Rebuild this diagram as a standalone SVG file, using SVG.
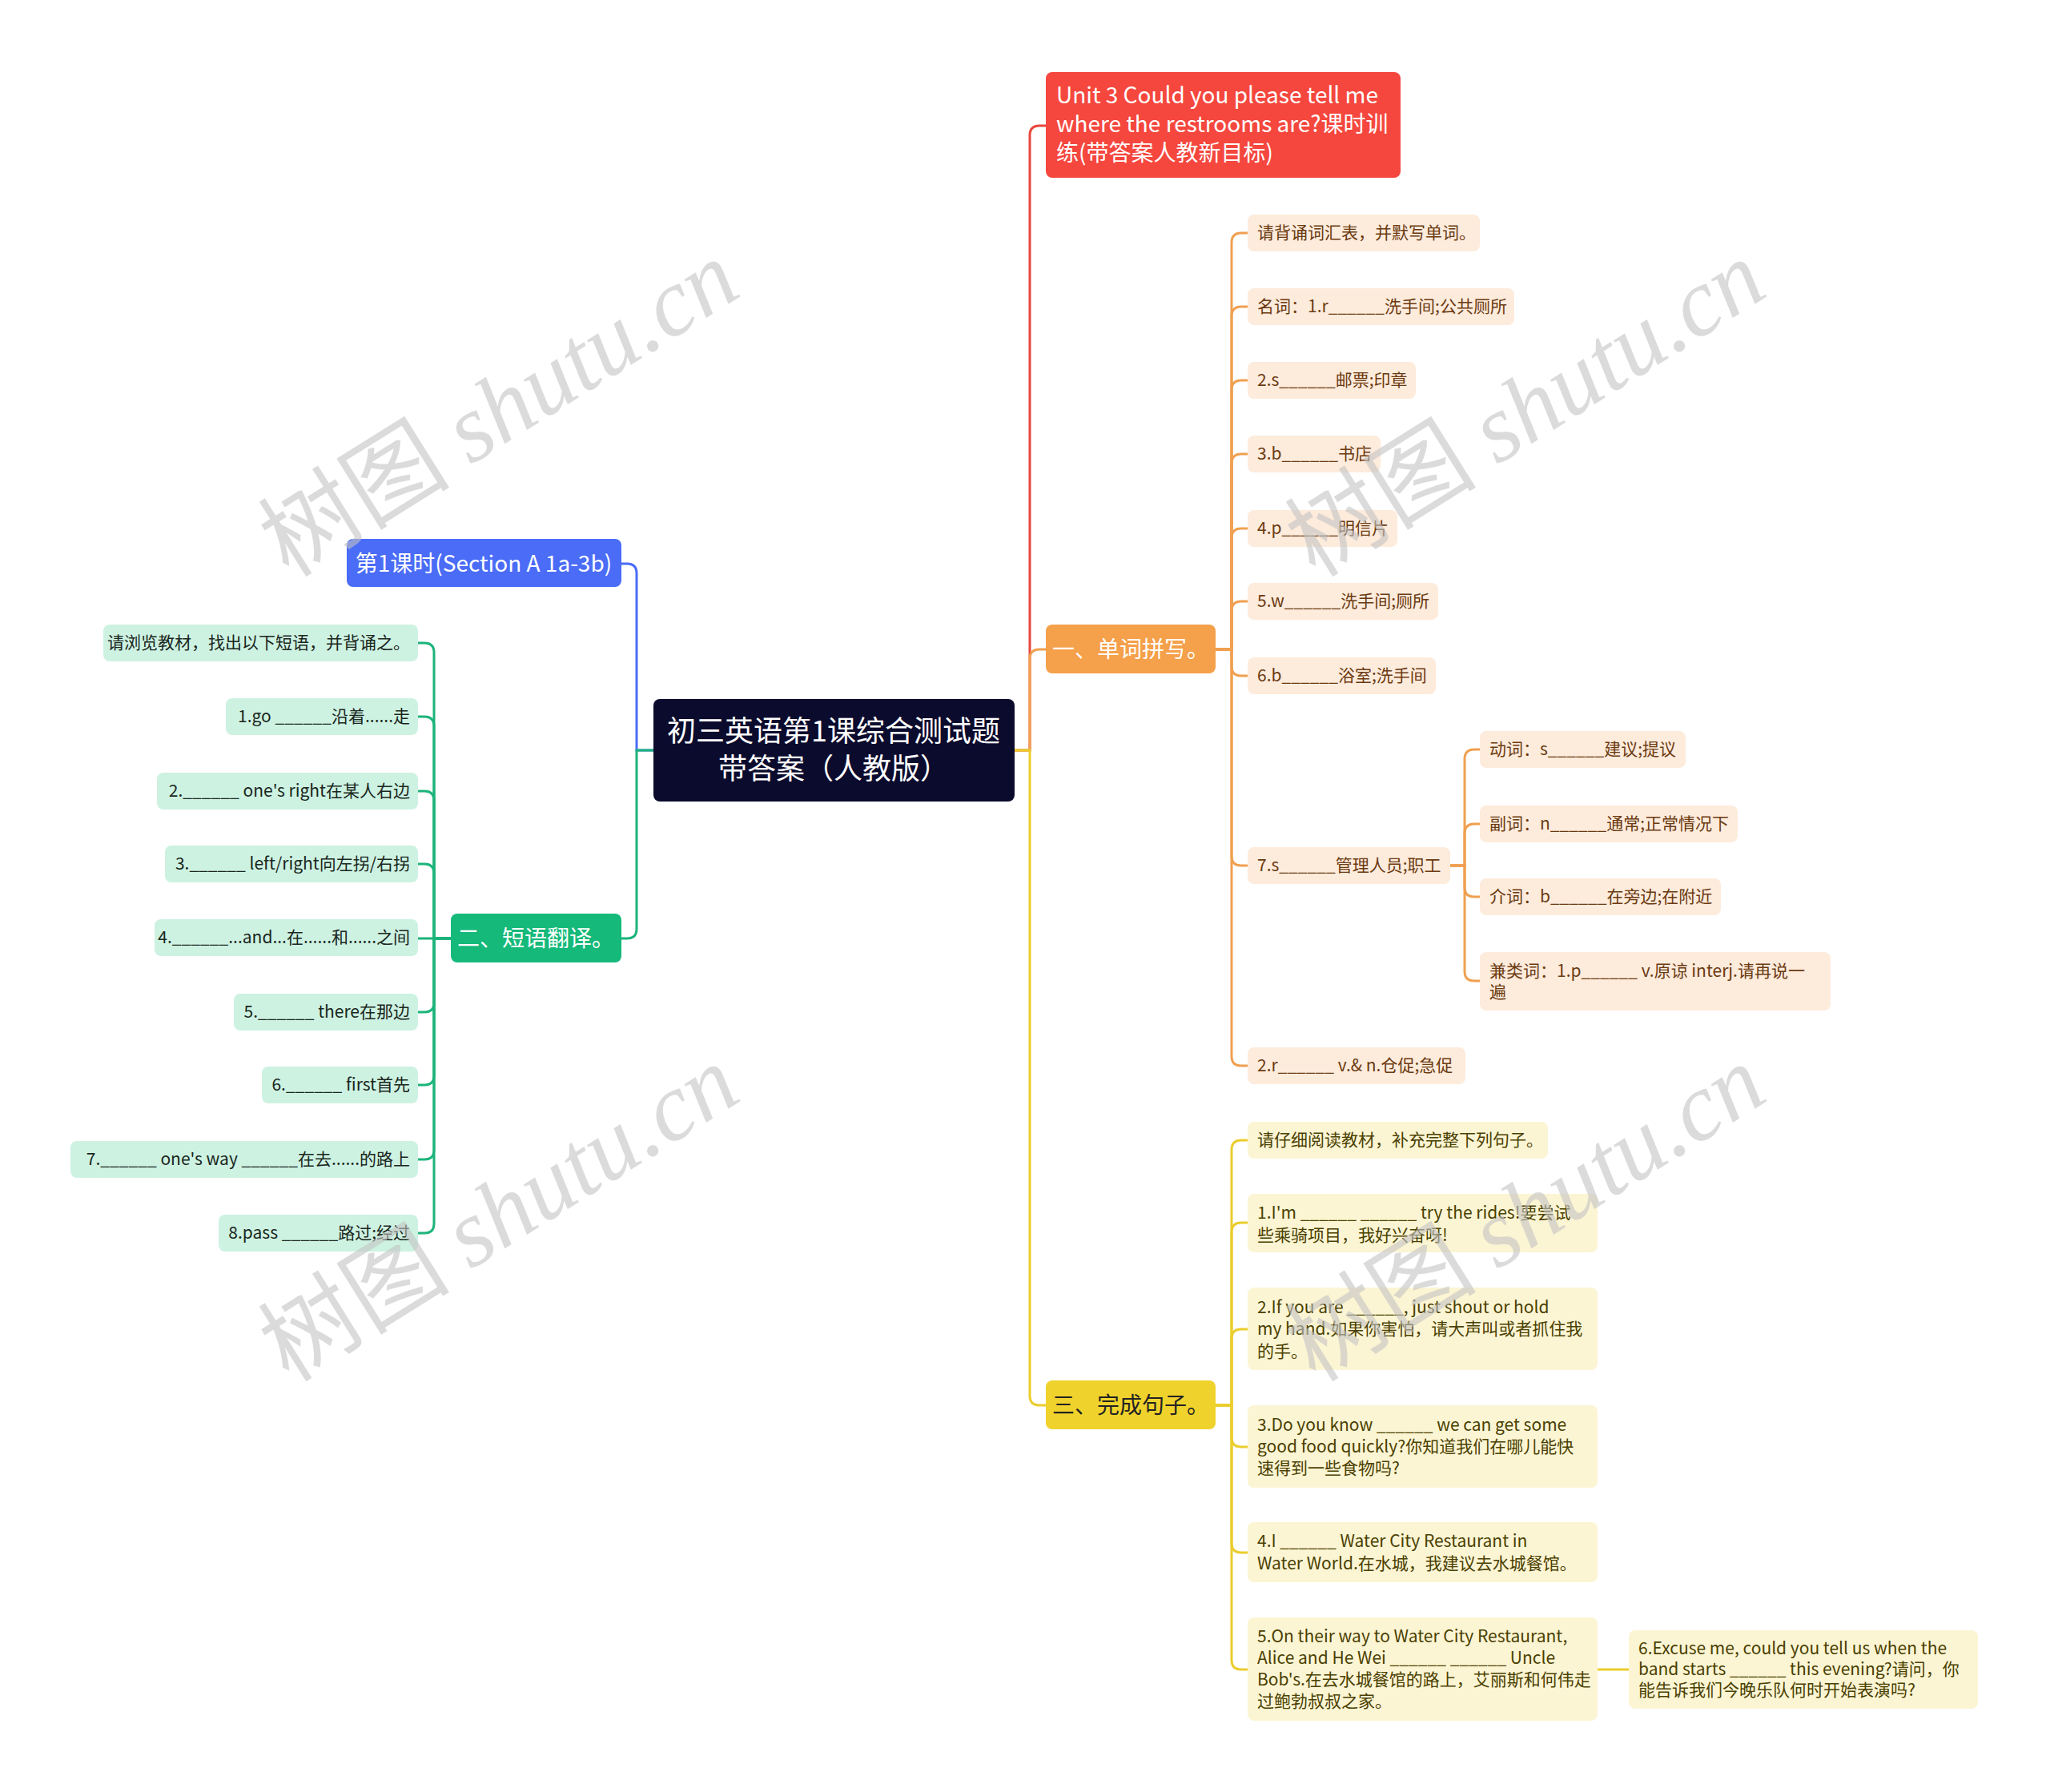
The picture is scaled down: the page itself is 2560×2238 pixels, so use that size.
<svg xmlns="http://www.w3.org/2000/svg" width="2560" height="2238" viewBox="0 0 2560 2238">
<style>
text{font-family:"Noto Sans CJK SC","Noto Sans",sans-serif;}
.lk{fill:none;stroke-width:3;}
.r{stroke:#e8473e}.o{stroke:#f0a050}.y{stroke:#ebcd2c}.g{stroke:#1cb47a}.b{stroke:#4a6cf7}
.ob{fill:#fdebdc}.ot{fill:#6b3a10;font-size:21px}
.yb{fill:#fcf5d4}.yt{fill:#4a4000;font-size:21px}
.gb{fill:#cdf2e2}.gt{fill:#1a2620;font-size:21px}
.mt{font-size:28px}
.wm{font-size:120px;fill:#c4c4c4;opacity:0.6}
</style>
<rect width="2560" height="2238" fill="#ffffff"/>
<g id="connectors">
<path class="lk r" d="M1267 937 H1286 V169 Q1286 157 1298 157 H1306"/>
<path class="lk o" d="M1267 937 H1286 V823 Q1286 811 1298 811 H1306"/>
<path class="lk y" d="M1267 937 H1286 V1743 Q1286 1755 1298 1755 H1306"/>
<path class="lk b" d="M816 937 H795 V716 Q795 704 783 704 H776"/>
<path class="lk g" d="M816 937 H795 V1160 Q795 1172 783 1172 H776"/>
<path class="lk o" d="M1518 811 H1538 V303 Q1538 291 1550 291 H1558"/>
<path class="lk o" d="M1518 811 H1538 V395 Q1538 383 1550 383 H1558"/>
<path class="lk o" d="M1518 811 H1538 V487 Q1538 475 1550 475 H1558"/>
<path class="lk o" d="M1518 811 H1538 V579 Q1538 567 1550 567 H1558"/>
<path class="lk o" d="M1518 811 H1538 V672 Q1538 660 1550 660 H1558"/>
<path class="lk o" d="M1518 811 H1538 V763 Q1538 751 1550 751 H1558"/>
<path class="lk o" d="M1518 811 H1538 V832 Q1538 844 1550 844 H1558"/>
<path class="lk o" d="M1518 811 H1538 V1069 Q1538 1081 1550 1081 H1558"/>
<path class="lk o" d="M1518 811 H1538 V1319 Q1538 1331 1550 1331 H1558"/>
<path class="lk o" d="M1811 1081 H1829 V948 Q1829 936 1841 936 H1848"/>
<path class="lk o" d="M1811 1081 H1829 V1041 Q1829 1029 1841 1029 H1848"/>
<path class="lk o" d="M1811 1081 H1829 V1108 Q1829 1120 1841 1120 H1848"/>
<path class="lk o" d="M1811 1081 H1829 V1213 Q1829 1225 1841 1225 H1848"/>
<path class="lk y" d="M1518 1755 H1538 V1436 Q1538 1424 1550 1424 H1558"/>
<path class="lk y" d="M1518 1755 H1538 V1539 Q1538 1527 1550 1527 H1558"/>
<path class="lk y" d="M1518 1755 H1538 V1672 Q1538 1660 1550 1660 H1558"/>
<path class="lk y" d="M1518 1755 H1538 V1795 Q1538 1807 1550 1807 H1558"/>
<path class="lk y" d="M1518 1755 H1538 V1927 Q1538 1939 1550 1939 H1558"/>
<path class="lk y" d="M1518 1755 H1538 V2073 Q1538 2085 1550 2085 H1558"/>
<path class="lk y" d="M1995 2085 H2034"/>
<path class="lk g" d="M563 1172 H542 V815 Q542 803 530 803 H522"/>
<path class="lk g" d="M563 1172 H542 V907 Q542 895 530 895 H522"/>
<path class="lk g" d="M563 1172 H542 V1000 Q542 988 530 988 H522"/>
<path class="lk g" d="M563 1172 H542 V1091 Q542 1079 530 1079 H522"/>
<path class="lk g" d="M563 1172 H522"/>
<path class="lk g" d="M563 1172 H542 V1252 Q542 1264 530 1264 H522"/>
<path class="lk g" d="M563 1172 H542 V1343 Q542 1355 530 1355 H522"/>
<path class="lk g" d="M563 1172 H542 V1436 Q542 1448 530 1448 H522"/>
<path class="lk g" d="M563 1172 H542 V1528 Q542 1540 530 1540 H522"/>
</g>
<g id="root">
<rect x="816" y="873" width="451" height="128" rx="8" fill="#0b0b2d"/>
<text x="1041" y="926" font-size="36" fill="#ffffff" text-anchor="middle">初三英语第1课综合测试题</text>
<text x="1041" y="973" font-size="36" fill="#ffffff" text-anchor="middle">带答案（人教版）</text>
</g>
<g id="title">
<rect x="1306" y="90" width="443" height="132" rx="8" fill="#f5473e"/>
<text class="mt" fill="#ffffff"><tspan x="1319" y="129">Unit 3 Could you please tell me</tspan><tspan x="1319" y="165">where the restrooms are?课时训</tspan><tspan x="1319" y="201">练(带答案人教新目标)</tspan></text>
</g>
<g id="lesson1">
<rect x="433" y="673" width="343" height="60" rx="8" fill="#4a6cf7"/>
<text class="mt" x="604" y="714" fill="#ffffff" text-anchor="middle">第1课时(Section A 1a-3b)</text>
</g>
<g id="sec1">
<rect x="1306" y="780" width="212" height="61" rx="8" fill="#f5a04a"/>
<text class="mt" x="1412" y="821" fill="#ffffff" text-anchor="middle">一、单词拼写。</text>
</g>
<g id="sec2">
<rect x="563" y="1141" width="213" height="61" rx="8" fill="#15b97a"/>
<text class="mt" x="669" y="1182" fill="#ffffff" text-anchor="middle">二、短语翻译。</text>
</g>
<g id="sec3">
<rect x="1306" y="1724" width="212" height="61" rx="8" fill="#f0d22c"/>
<text class="mt" x="1412" y="1765" fill="#222222" text-anchor="middle">三、完成句子。</text>
</g>
<g id="w0"><rect class="ob" x="1558" y="268" width="290" height="46" rx="8"/><text class="ot" x="1570" y="298">请背诵词汇表，并默写单词。</text></g>
<g id="w1"><rect class="ob" x="1558" y="360" width="333" height="46" rx="8"/><text class="ot" x="1570" y="390">名词：1.r______洗手间;公共厕所</text></g>
<g id="w2"><rect class="ob" x="1558" y="452" width="210" height="46" rx="8"/><text class="ot" x="1570" y="482">2.s______邮票;印章</text></g>
<g id="w3"><rect class="ob" x="1558" y="544" width="166" height="46" rx="8"/><text class="ot" x="1570" y="574">3.b______书店</text></g>
<g id="w4"><rect class="ob" x="1558" y="637" width="187" height="46" rx="8"/><text class="ot" x="1570" y="667">4.p______明信片</text></g>
<g id="w5"><rect class="ob" x="1558" y="728" width="238" height="46" rx="8"/><text class="ot" x="1570" y="758">5.w______洗手间;厕所</text></g>
<g id="w6"><rect class="ob" x="1558" y="821" width="235" height="46" rx="8"/><text class="ot" x="1570" y="851">6.b______浴室;洗手间</text></g>
<g id="w7"><rect class="ob" x="1558" y="1058" width="253" height="46" rx="8"/><text class="ot" x="1570" y="1088">7.s______管理人员;职工</text></g>
<g id="w8"><rect class="ob" x="1558" y="1308" width="272" height="46" rx="8"/><text class="ot" x="1570" y="1338">2.r______ v.&amp; n.仓促;急促</text></g>
<g id="w7a"><rect class="ob" x="1848" y="913" width="257" height="46" rx="8"/><text class="ot" x="1860" y="943">动词：s______建议;提议</text></g>
<g id="w7b"><rect class="ob" x="1848" y="1006" width="322" height="46" rx="8"/><text class="ot" x="1860" y="1036">副词：n______通常;正常情况下</text></g>
<g id="w7c"><rect class="ob" x="1848" y="1097" width="301" height="46" rx="8"/><text class="ot" x="1860" y="1127">介词：b______在旁边;在附近</text></g>
<g id="w7d"><rect class="ob" x="1848" y="1189" width="438" height="73" rx="8"/><text class="ot"><tspan x="1860" y="1220">兼类词：1.p______ v.原谅 interj.请再说一</tspan><tspan x="1860" y="1246">遍</tspan></text></g>
<g id="s0"><rect class="yb" x="1558" y="1401" width="375" height="46" rx="8"/><text class="yt" x="1570" y="1431">请仔细阅读教材，补充完整下列句子。</text></g>
<g id="s1"><rect class="yb" x="1558" y="1491" width="437" height="73" rx="8"/><text class="yt"><tspan x="1570" y="1522">1.I'm ______ ______ try the rides!要尝试</tspan><tspan x="1570" y="1550">些乘骑项目，我好兴奋呀!</tspan></text></g>
<g id="s2"><rect class="yb" x="1558" y="1608" width="437" height="103" rx="8"/><text class="yt"><tspan x="1570" y="1640">2.If you are ______, just shout or hold</tspan><tspan x="1570" y="1667">my hand.如果你害怕，请大声叫或者抓住我</tspan><tspan x="1570" y="1695">的手。</tspan></text></g>
<g id="s3"><rect class="yb" x="1558" y="1755" width="437" height="103" rx="8"/><text class="yt"><tspan x="1570" y="1787">3.Do you know ______ we can get some</tspan><tspan x="1570" y="1814">good food quickly?你知道我们在哪儿能快</tspan><tspan x="1570" y="1841">速得到一些食物吗?</tspan></text></g>
<g id="s4"><rect class="yb" x="1558" y="1901" width="437" height="75" rx="8"/><text class="yt"><tspan x="1570" y="1932">4.I ______ Water City Restaurant in</tspan><tspan x="1570" y="1960">Water World.在水城，我建议去水城餐馆。</tspan></text></g>
<g id="s5"><rect class="yb" x="1558" y="2020" width="437" height="129" rx="8"/><text class="yt"><tspan x="1570" y="2051">5.On their way to Water City Restaurant,</tspan><tspan x="1570" y="2078">Alice and He Wei ______ ______ Uncle</tspan><tspan x="1570" y="2105">Bob's.在去水城餐馆的路上，艾丽斯和何伟走</tspan><tspan x="1570" y="2132">过鲍勃叔叔之家。</tspan></text></g>
<g id="s6"><rect class="yb" x="2034" y="2036" width="436" height="98" rx="8"/><text class="yt"><tspan x="2046" y="2066">6.Excuse me, could you tell us when the</tspan><tspan x="2046" y="2092">band starts ______ this evening?请问，你</tspan><tspan x="2046" y="2118">能告诉我们今晚乐队何时开始表演吗?</tspan></text></g>
<g id="p0"><rect class="gb" x="129" y="780" width="393" height="46" rx="8"/><text class="gt" x="512" y="810" text-anchor="end">请浏览教材，找出以下短语，并背诵之。</text></g>
<g id="p1"><rect class="gb" x="282" y="872" width="240" height="46" rx="8"/><text class="gt" x="512" y="902" text-anchor="end">1.go ______沿着......走</text></g>
<g id="p2"><rect class="gb" x="196" y="965" width="326" height="46" rx="8"/><text class="gt" x="512" y="995" text-anchor="end">2.______ one's right在某人右边</text></g>
<g id="p3"><rect class="gb" x="206" y="1056" width="316" height="46" rx="8"/><text class="gt" x="512" y="1086" text-anchor="end">3.______ left/right向左拐/右拐</text></g>
<g id="p4"><rect class="gb" x="193" y="1148" width="329" height="46" rx="8"/><text class="gt" x="512" y="1178" text-anchor="end">4.______...and...在......和......之间</text></g>
<g id="p5"><rect class="gb" x="292" y="1241" width="230" height="46" rx="8"/><text class="gt" x="512" y="1271" text-anchor="end">5.______ there在那边</text></g>
<g id="p6"><rect class="gb" x="327" y="1332" width="195" height="46" rx="8"/><text class="gt" x="512" y="1362" text-anchor="end">6.______ first首先</text></g>
<g id="p7"><rect class="gb" x="88" y="1425" width="434" height="46" rx="8"/><text class="gt" x="512" y="1455" text-anchor="end">7.______ one's way ______在去......的路上</text></g>
<g id="p8"><rect class="gb" x="273" y="1517" width="249" height="46" rx="8"/><text class="gt" x="512" y="1547" text-anchor="end">8.pass ______路过;经过</text></g>
<g id="watermarks">
<text class="wm" transform="translate(645 545) rotate(-32)" text-anchor="middle"><tspan>树图 </tspan><tspan font-family="Liberation Serif" font-style="italic">shutu.cn</tspan></text>
<text class="wm" transform="translate(1927 545) rotate(-32)" text-anchor="middle"><tspan>树图 </tspan><tspan font-family="Liberation Serif" font-style="italic">shutu.cn</tspan></text>
<text class="wm" transform="translate(645 1550) rotate(-32)" text-anchor="middle"><tspan>树图 </tspan><tspan font-family="Liberation Serif" font-style="italic">shutu.cn</tspan></text>
<text class="wm" transform="translate(1927 1550) rotate(-32)" text-anchor="middle"><tspan>树图 </tspan><tspan font-family="Liberation Serif" font-style="italic">shutu.cn</tspan></text>
</g>
</svg>
